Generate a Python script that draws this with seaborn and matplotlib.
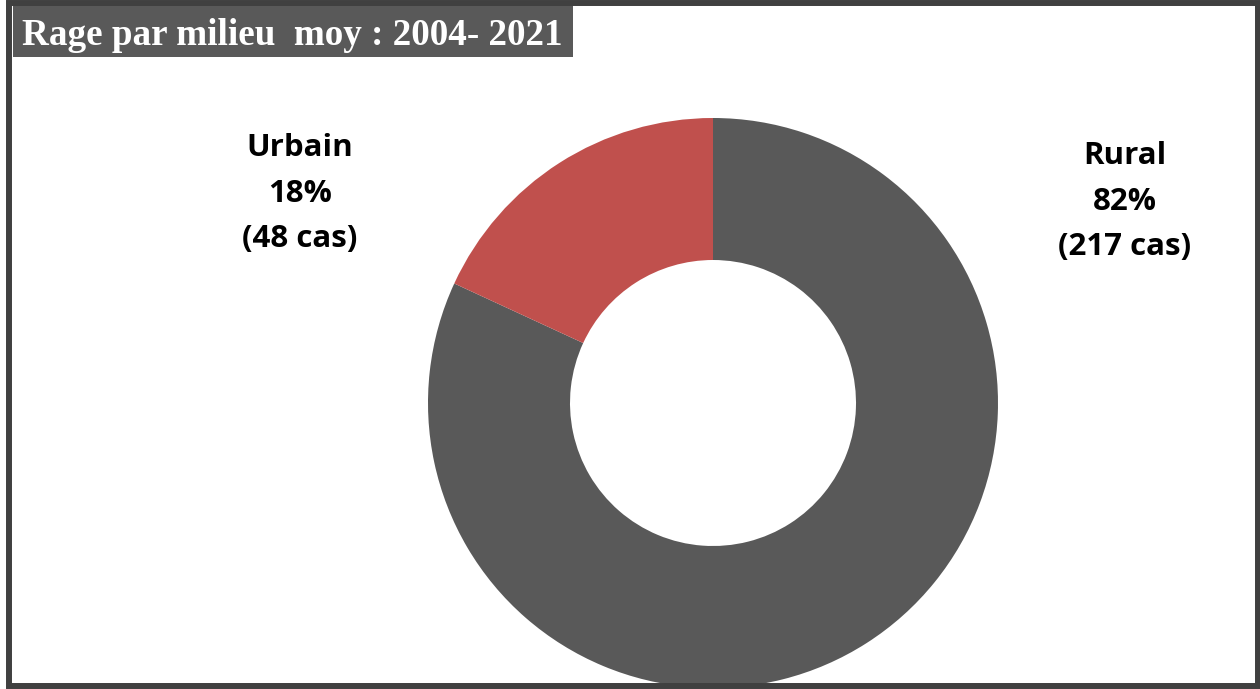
import matplotlib
matplotlib.use("Agg")
import matplotlib.pyplot as plt
from matplotlib.patches import Rectangle
import seaborn as sns

# Data
categories = ["Rural", "Urbain"]
cases = [217, 48]
percent_labels = ["82%", "18%"]
colors = ["#595959", "#C0504D"]
title = "Rage par milieu  moy : 2004- 2021"

sns.set_theme(style="white")
plt.rcParams['font.family'] = ['Open Sans', 'DejaVu Sans']

W, H = 1260, 689
fig = plt.figure(figsize=(W / 100, H / 100), dpi=100)
fig.patch.set_facecolor("white")
ax = fig.add_axes([0, 0, 1, 1])

cx, cy, R = 713, H - 403, 285
ax.pie(cases, colors=colors, startangle=90, counterclock=False,
       center=(cx, cy), radius=R,
       wedgeprops=dict(width=142, edgecolor="none", linewidth=0))

ax.set_xlim(0, W)
ax.set_ylim(0, H)
ax.set_aspect("auto")
ax.axis("off")

# data labels
label_pos = {"Rural": (1125, H - 201.5), "Urbain": (300, H - 193.5)}
for cat, n, p in zip(categories, cases, percent_labels):
    x, y = label_pos[cat]
    ax.text(x, y, f"{cat}\n{p}\n({n} cas)", ha="center", va="center",
            fontsize=22.5, fontweight="bold", color="black",
            linespacing=1.66, family=['Open Sans', 'DejaVu Sans'])

# title box
ax.add_patch(Rectangle((13, H - 57), 560, 52, facecolor="#595959",
                       edgecolor="none", zorder=3))
ax.text(22, H - 45, title, ha="left", va="baseline", color="white",
        fontsize=26.7, fontweight="bold", family=['Liberation Serif', 'DejaVu Serif'],
        zorder=4)

# outer frame
ax.add_patch(Rectangle((9, 3), 1249, 683.5, facecolor="none",
                       edgecolor="#404040", linewidth=4.3, zorder=5,
                       clip_on=False))

fig.savefig("out.png", dpi=100)
